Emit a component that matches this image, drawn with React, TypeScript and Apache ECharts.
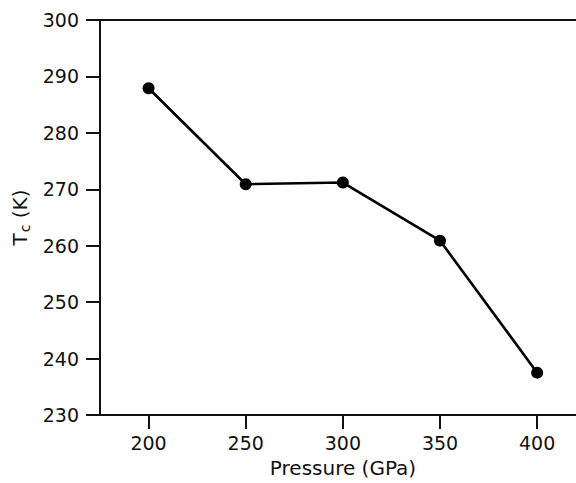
import React, { useEffect, useRef } from "react";
import * as echarts from "echarts";

const pressures = [200, 250, 300, 350, 400];
const tcValues = [287.9, 270.9, 271.2, 260.9, 237.5];
const xTicks = [200, 250, 300, 350, 400];

const FONT = "DejaVu Sans";
const INK = "#111111";

export default function App() {
  const ref = useRef<HTMLDivElement>(null);
  useEffect(() => {
    if (!ref.current) return;
    const chart = echarts.init(ref.current, undefined, { renderer: "svg" });
    chart.setOption({
      animation: false,
      backgroundColor: "#ffffff",
      grid: { left: 100, top: 20, right: 0, bottom: 68 },
      xAxis: [
        {
          type: "value",
          min: 175,
          max: 420,
          name: "Pressure (GPa)",
          nameLocation: "middle",
          nameGap: 43,
          nameTextStyle: { fontFamily: FONT, fontSize: 20, color: INK, padding: [0, 0, 0, 10] },
          axisLine: { show: true, onZero: false, lineStyle: { color: INK, width: 2 } },
          axisTick: { show: true, length: 14, lineStyle: { color: INK, width: 2 }, customValues: xTicks },
          axisLabel: { fontFamily: FONT, fontSize: 19, color: INK, margin: 18, customValues: xTicks },
          splitLine: { show: false },
        },
        {
          type: "value",
          position: "top",
          min: 175,
          max: 420,
          axisLine: { show: true, onZero: false, lineStyle: { color: INK, width: 2 } },
          axisTick: { show: false },
          axisLabel: { show: false },
          splitLine: { show: false },
        },
      ],
      yAxis: {
        type: "value",
        min: 230,
        max: 300,
        interval: 10,
        name: "{a|T}{sub|c}{a| (K)}",
        nameLocation: "middle",
        nameGap: 60,
        nameTextStyle: {
          rich: {
            a: { fontFamily: FONT, fontSize: 20, color: INK },
            sub: { fontFamily: FONT, fontSize: 14, color: INK, verticalAlign: "bottom", padding: [9, 0, 0, 1] },
          },
        },
        axisLine: { show: true, onZero: false, lineStyle: { color: INK, width: 2 } },
        axisTick: { show: true, length: 14, lineStyle: { color: INK, width: 2 } },
        axisLabel: { fontFamily: FONT, fontSize: 19, color: INK, margin: 21 },
        splitLine: { show: false },
      },
      series: [
        {
          type: "line",
          data: pressures.map((p, i) => [p, tcValues[i]]),
          symbol: "circle",
          symbolSize: 12,
          lineStyle: { color: "#000000", width: 2.6 },
          itemStyle: { color: "#000000" },
        },
      ],
    });
    return () => chart.dispose();
  }, []);
  return <div ref={ref} style={{ width: 576, height: 483, position: "absolute", left: 0, top: 0 }} />;
}
